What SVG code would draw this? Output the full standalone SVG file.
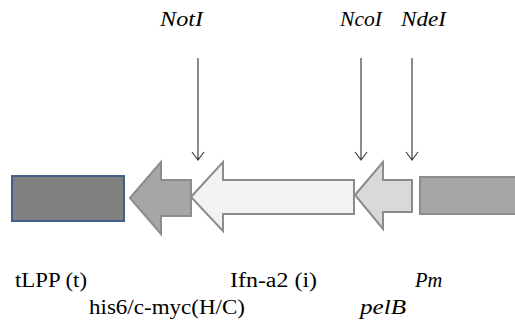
<svg xmlns="http://www.w3.org/2000/svg" width="515" height="323" viewBox="0 0 515 323">
<style>
.lbl{font-family:'Liberation Serif','DejaVu Serif',serif;font-size:20.5px;fill:#000}
.it{font-style:italic}
.site{stroke:#404040;stroke-width:1.2;fill:none}
.gene{stroke:#8c8c8c;stroke-width:2;stroke-linejoin:miter}
</style>
<rect width="515" height="323" fill="#fff"/>
<g id="connectors">
<path class="site" d="M198 58V160M192 152L198 160L204 152"/>
<path class="site" d="M361 58V160M355 152L361 160L367 152"/>
<path class="site" d="M412 58V160M406 152L412 160L418 152"/>
</g>
<g id="tLPP">
<rect x="12" y="176" width="112" height="45" fill="#808080" stroke="#41618c" stroke-width="2"/>
<text class="lbl" x="15" y="287" textLength="72" lengthAdjust="spacingAndGlyphs">tLPP (t)</text>
</g>
<g id="his6">
<polygon class="gene" fill="#a6a6a6" points="130,198 161,162 161,180 191,180 191,216 161,216 161,234"/>
<text class="lbl" x="89" y="314" textLength="156" lengthAdjust="spacingAndGlyphs">his6/c-myc(H/C)</text>
</g>
<g id="ifn">
<polygon class="gene" fill="#f2f2f2" points="191,197 223,162 223,180 354,180 354,214 223,214 223,231"/>
<text class="lbl" x="230" y="287" textLength="87" lengthAdjust="spacingAndGlyphs">Ifn-a2 (i)</text>
</g>
<g id="pelB">
<polygon class="gene" fill="#d9d9d9" points="355,195 383,162 383,180 412,180 412,212 383,212 383,229"/>
<text class="lbl it" x="360" y="314" textLength="46" lengthAdjust="spacingAndGlyphs">pelB</text>
</g>
<g id="Pm">
<rect x="420" y="177" width="100" height="37" fill="#a6a6a6" stroke="#8c8c8c" stroke-width="2"/>
<text class="lbl it" x="415" y="287">Pm</text>
</g>
<g id="sites">
<text class="lbl it" x="160" y="26" textLength="43" lengthAdjust="spacingAndGlyphs">NotI</text>
<text class="lbl it" x="340" y="26" textLength="42" lengthAdjust="spacingAndGlyphs">NcoI</text>
<text class="lbl it" x="401" y="26" textLength="45" lengthAdjust="spacingAndGlyphs">NdeI</text>
</g>
</svg>
